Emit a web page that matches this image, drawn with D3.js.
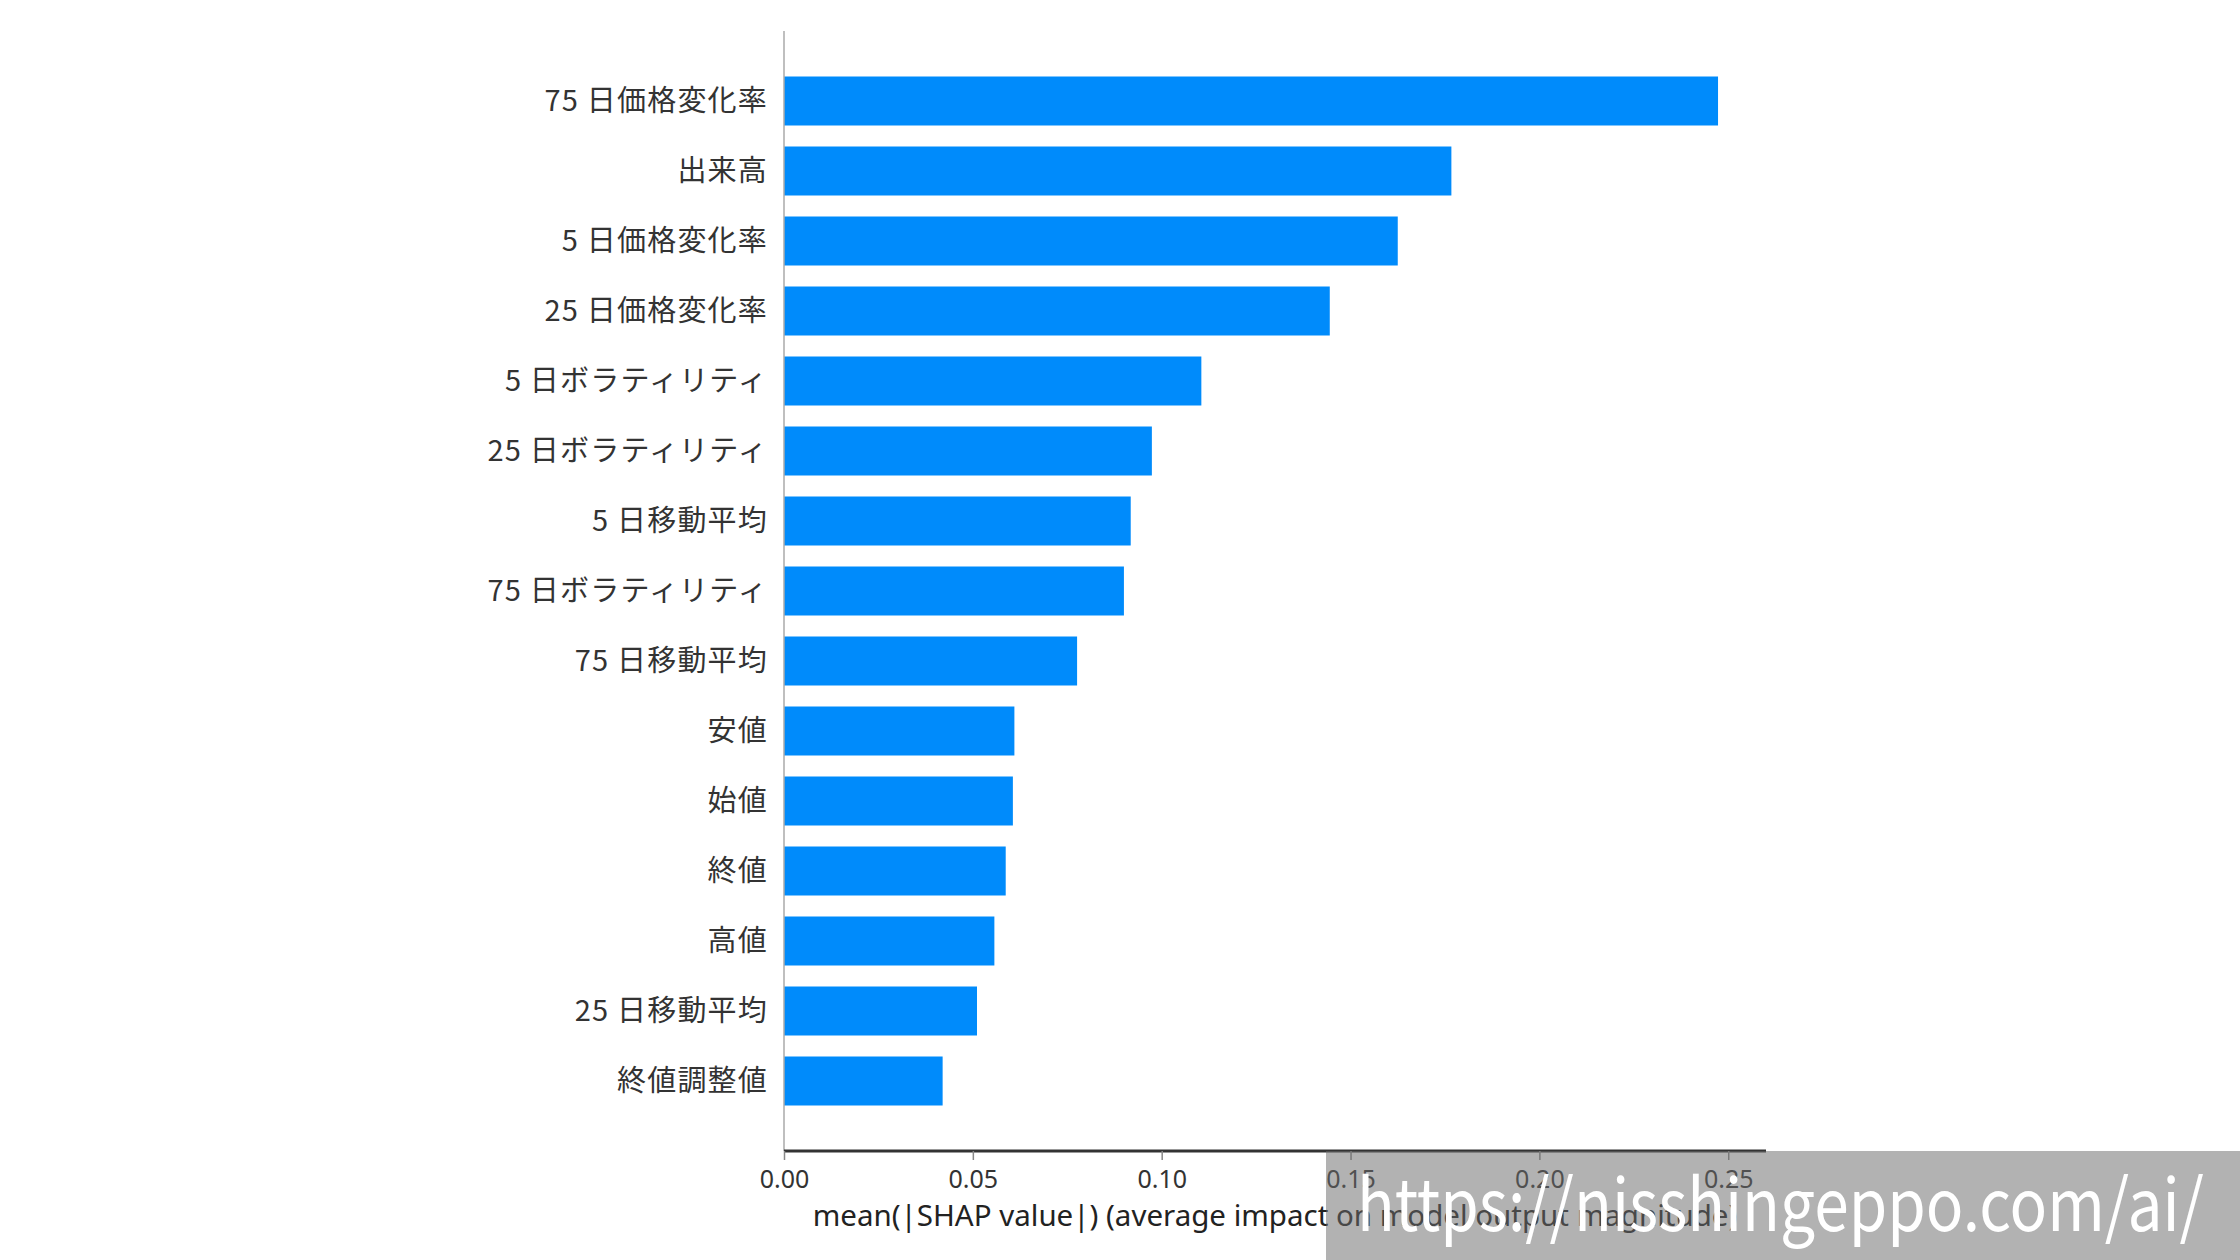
<!DOCTYPE html>
<html>
<head>
<meta charset="utf-8">
<script src="https://cdn.jsdelivr.net/npm/d3@7"></script>
<style>
  html, body { margin: 0; padding: 0; background: #fff; }
  svg { display: block; }
</style>
</head>
<body>
<svg id="chart" width="2240" height="1260"></svg>
<script>
// SHAP feature importance (mean |SHAP value|), top to bottom
const features = [
  "75 日価格変化率",
  "出来高",
  "5 日価格変化率",
  "25 日価格変化率",
  "5 日ボラティリティ",
  "25 日ボラティリティ",
  "5 日移動平均",
  "75 日ボラティリティ",
  "75 日移動平均",
  "安値",
  "始値",
  "終値",
  "高値",
  "25 日移動平均",
  "終値調整値",
];
const meanShap = [
  0.2473, 0.1767, 0.1625, 0.1445, 0.1105, 0.0974, 0.0918, 0.0900, 0.0776,
  0.0610, 0.0606, 0.0587, 0.0557, 0.0511, 0.0420,
];
const xTicks = [0, 0.05, 0.1, 0.15, 0.2, 0.25];
const xLabel = "mean(|SHAP value|) (average impact on model output magnitude)";
const watermark = "https://nisshingeppo.com/ai/";

const svg = d3.select("#chart");
const plotL = 784, plotR = 1766, plotT = 31, plotB = 1151;

const x = d3.scaleLinear().domain([0, 0.26]).range([plotL, plotR]);
// index 0 at top; one extra unit of room above and below like matplotlib
const y = d3.scaleLinear().domain([-1, features.length]).range([plotT, plotB]);
const step = y(1) - y(0);
const barH = step * 0.7;

const data = features.map((f, i) => ({ f, v: meanShap[i], i }));

// bars
svg.append("g")
  .selectAll("rect")
  .data(data)
  .join("rect")
  .attr("x", x(0))
  .attr("y", (d) => y(d.i) - barH / 2)
  .attr("width", (d) => x(d.v) - x(0))
  .attr("height", barH)
  .attr("fill", "#008bfb");

// left spine
svg.append("line")
  .attr("x1", x(0)).attr("x2", x(0))
  .attr("y1", plotT).attr("y2", plotB)
  .attr("stroke", "#aaa").attr("stroke-width", 1.5);

// feature labels
svg.append("g")
  .selectAll("text")
  .data(data)
  .join("text")
  .attr("x", x(0) - 16)
  .attr("y", (d) => y(d.i))
  .attr("dy", "0.36em")
  .attr("text-anchor", "end")
  .attr("fill", "#333")
  .style("font-family", "'Noto Sans CJK JP', 'Noto Sans', sans-serif")
  .style("font-size", "29px")
  .style("letter-spacing", "1.2px")
  .text((d) => d.f);

// x axis
const gx = svg.append("g").attr("transform", `translate(0,${plotB})`);
gx.call(
  d3.axisBottom(x).tickValues(xTicks).tickFormat(d3.format(".2f")).tickSize(9).tickPadding(10)
);
gx.select(".domain")
  .attr("d", `M${x(0)},0H${plotR}`)
  .attr("stroke", "#333").attr("stroke-width", 3);
gx.selectAll(".tick line").attr("stroke", "#888").attr("stroke-width", 1.5);
gx.selectAll(".tick text")
  .attr("fill", "#333")
  .style("font-family", "'Noto Sans', sans-serif")
  .style("font-size", "25px");

svg.append("text")
  .attr("x", (plotL + plotR) / 2)
  .attr("y", 1226)
  .attr("text-anchor", "middle")
  .attr("fill", "#222")
  .style("font-family", "'Noto Sans', sans-serif")
  .style("font-size", "29.5px")
  .text(xLabel);

// watermark band
svg.append("rect")
  .attr("x", 1326).attr("y", 1151)
  .attr("width", 2240 - 1326).attr("height", 1260 - 1151)
  .attr("fill", "rgb(107,107,107)").attr("opacity", 0.52);
svg.append("text")
  .attr("x", 1357)
  .attr("y", 1231)
  .attr("fill", "#fff")
  .attr("textLength", 847)
  .attr("lengthAdjust", "spacingAndGlyphs")
  .style("font-family", "'Noto Sans CJK JP', 'Noto Sans', sans-serif")
  .style("font-size", "72px")
  .text(watermark);
</script>
</body>
</html>
